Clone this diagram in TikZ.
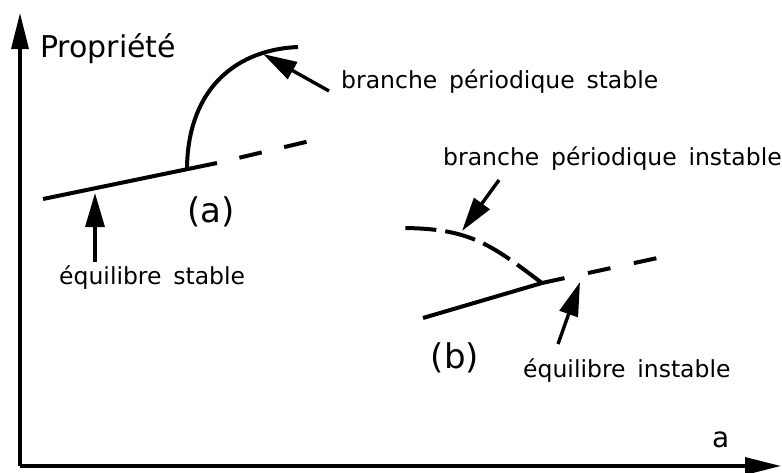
\documentclass[tikz,border=0pt]{standalone}
\usepackage{fontspec}
\setmainfont{DejaVu Sans}
\usetikzlibrary{arrows.meta}
\tikzset{
  curve/.style={line width=4pt},
  axis/.style={line width=3.4pt,-{Triangle[length=36pt,width=17pt]}},
  pointer/.style={line width=3.4pt,-{Triangle[length=34pt,width=19pt]}},
  lbl/.style={inner sep=0pt,anchor=base west,font=\fontsize{23.5}{27}\selectfont},
  big/.style={inner sep=0pt,font=\fontsize{30}{34}\selectfont},
  paren/.style={inner sep=0pt,font=\fontsize{34}{38}\selectfont},
}
\begin{document}
\begin{tikzpicture}[x=1pt,y=-1pt]
\useasboundingbox (0,0) rectangle (782,472);
% axes
\coordinate (O) at (20,466);
\coordinate (Ytop) at (20,13);
\coordinate (Xend) at (781,466);
\draw[axis] (O) -- (Ytop);
\draw[axis] (O) -- (Xend);
\node[big,anchor=base west] (prop) at (40,57) {Propriété};
\node[big,anchor=base west,font=\fontsize{28}{32}\selectfont] (alab) at (712,447) {a};
% (a)
\coordinate (a1) at (43,199);
\coordinate (abif) at (187,170);
\coordinate (a2) at (217,163);
\coordinate (a3) at (310,141);
\coordinate (atop) at (298,47);
\draw[curve] (a1) -- (a2);
\draw[curve,dash pattern=on 23pt off 23pt,dash phase=23pt] (a2) -- (a3);
\draw[curve] (abif) .. controls (187,95) and (230,50) .. (atop);
\node[paren] (la) at (211,212) {(a)};
\coordinate (tipPS) at (263,54);
\coordinate (tailPS) at (329,91);
\draw[pointer] (tailPS) -- (tipPS);
\node[lbl] (tPS) at (341,88) {branche\hspace{0.5em}périodique\hspace{0.5em}stable};
\coordinate (tipES) at (95,193);
\coordinate (tailES) at (95,262);
\draw[pointer] (tailES) -- (tipES);
\node[lbl] (tES) at (59,284) {équilibre\hspace{0.5em}stable};
% (b)
\coordinate (b1) at (423,318);
\coordinate (bbif) at (542,283);
\coordinate (b2) at (662,257);
\coordinate (bend) at (400,228);
\draw[curve] (b1) -- (bbif);
\draw[curve,dash pattern=on 23pt off 24pt] (bbif) -- (b2);
\draw[curve,dash pattern=on 31pt off 9pt] (bbif) .. controls (490,244) and (470,228) .. (bend);
\node[paren] (lb) at (455,358) {(b)};
\coordinate (tipPI) at (462,231);
\coordinate (tailPI) at (499,180);
\draw[pointer] (tailPI) -- (tipPI);
\node[lbl] (tPI) at (443,165) {branche\hspace{0.5em}périodique\hspace{0.5em}instable};
\coordinate (tipEI) at (580,282);
\coordinate (tailEI) at (558,344);
\draw[pointer] (tailEI) -- (tipEI);
\node[lbl] (tEI) at (523,377) {équilibre\hspace{0.5em}instable};
\end{tikzpicture}
\end{document}
